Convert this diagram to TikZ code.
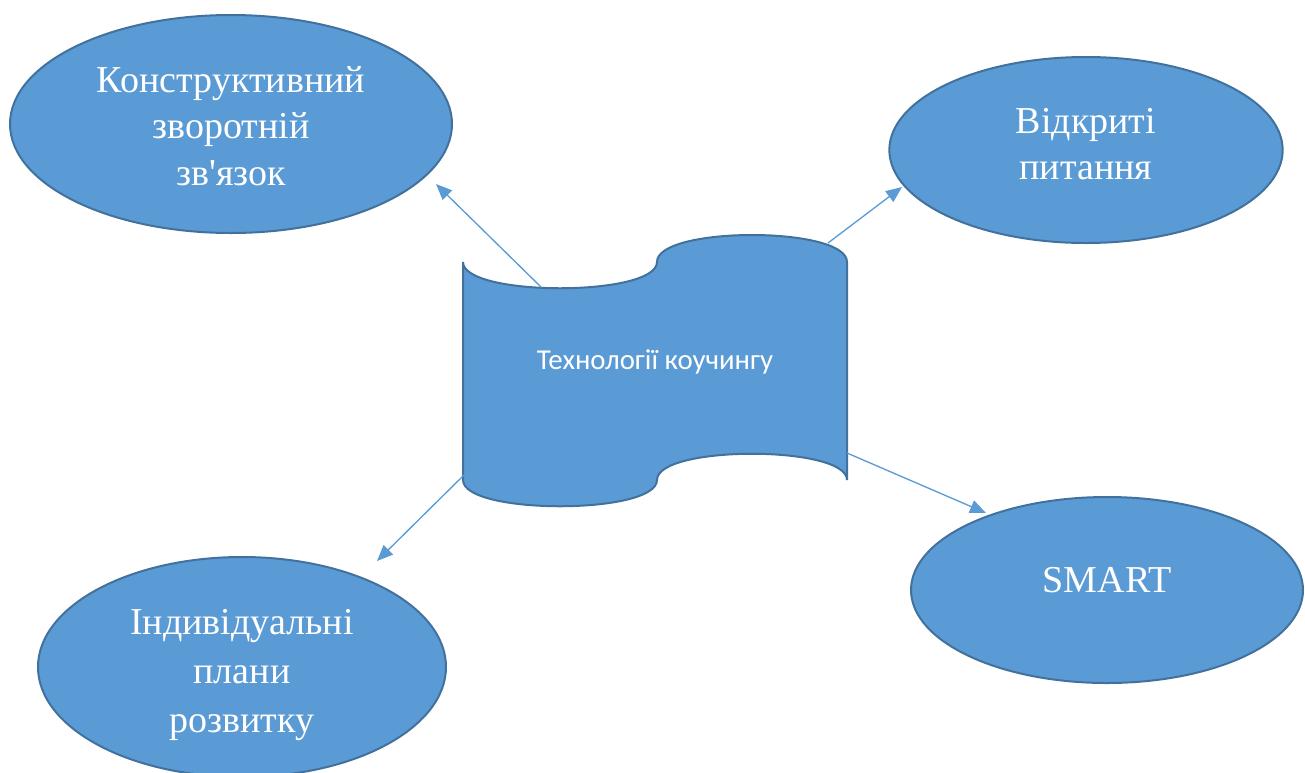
\documentclass[tikz,border=0pt]{standalone}
\usepackage{fontspec}
\newfontfamily\ovalfont{Liberation Serif}
\newfontfamily\tapefont{Carlito}
\usepackage{tikz}
\usetikzlibrary{arrows.meta,shapes,positioning}
\definecolor{ovalblue}{RGB}{91,155,213}
\definecolor{ovalborder}{RGB}{65,113,156}
\tikzstyle{arrow} = [line width=1pt,-{Triangle[length=12pt,width=10pt]},color=ovalblue]
\tikzstyle{oval} = [ellipse, draw=ovalborder, fill=ovalblue, line width=1.5pt, inner sep=0pt]
\tikzstyle{ovaltext} = [inner sep=0pt, text=white, align=center, font=\ovalfont\fontsize{28.5pt}{35pt}\selectfont]
\tikzstyle{tape} = [draw=ovalborder, fill=ovalblue, line width=1.5pt]

\begin{document}
\begin{tikzpicture}[x=0.75pt,y=-0.75pt]
\useasboundingbox (0,0) rectangle (1305,772);

% Central tape
\draw[tape] (463,262) .. controls (463,297) and (657,297) .. (657,262)
  .. controls (657,226) and (847,226) .. (847,262) -- (847,480)
  .. controls (847,445) and (657,445) .. (657,480)
  .. controls (657,515) and (463,515) .. (463,480) -- cycle;
\node[font=\tapefont\fontsize{21.6pt}{25pt}\selectfont, text=white] (tech) at (655,362) {Технології коучингу};

% Four ovals
\node[oval, minimum width=331.5pt, minimum height=163.5pt] (feedback) at (231,124) {};
\node[oval, minimum width=295pt, minimum height=139.5pt] (questions) at (1086,150) {};
\node[oval, minimum width=294pt, minimum height=139.5pt] (smart) at (1107,590) {};
\node[oval, minimum width=306pt, minimum height=165pt] (plans) at (242,667) {};

\node[ovaltext] (feedback-text) at (231,126) {Конструктивний\\зворотній\\зв'язок};
\node[ovaltext] (questions-text) at (1086,144) {Відкриті\\питання};
\node[ovaltext] (smart-text) at (1107,580) {SMART};
\node[ovaltext, font=\ovalfont\fontsize{28.5pt}{36.75pt}\selectfont] (plans-text) at (242,675) {Індивідуальні\\плани\\розвитку};

% Connectors
\coordinate (fb-from) at (541,287);
\coordinate (fb-to) at (436,184);
\coordinate (oq-from) at (828,243);
\coordinate (oq-to) at (902,187);
\coordinate (sm-from) at (847,453);
\coordinate (sm-to) at (986,513);
\coordinate (ip-from) at (465,474);
\coordinate (ip-to) at (377,561);

\draw[arrow] (fb-from) -- (fb-to);
\draw[arrow] (oq-from) -- (oq-to);
\draw[arrow] (sm-from) -- (sm-to);
\draw[arrow] (ip-from) -- (ip-to);
\end{tikzpicture}
\end{document}
